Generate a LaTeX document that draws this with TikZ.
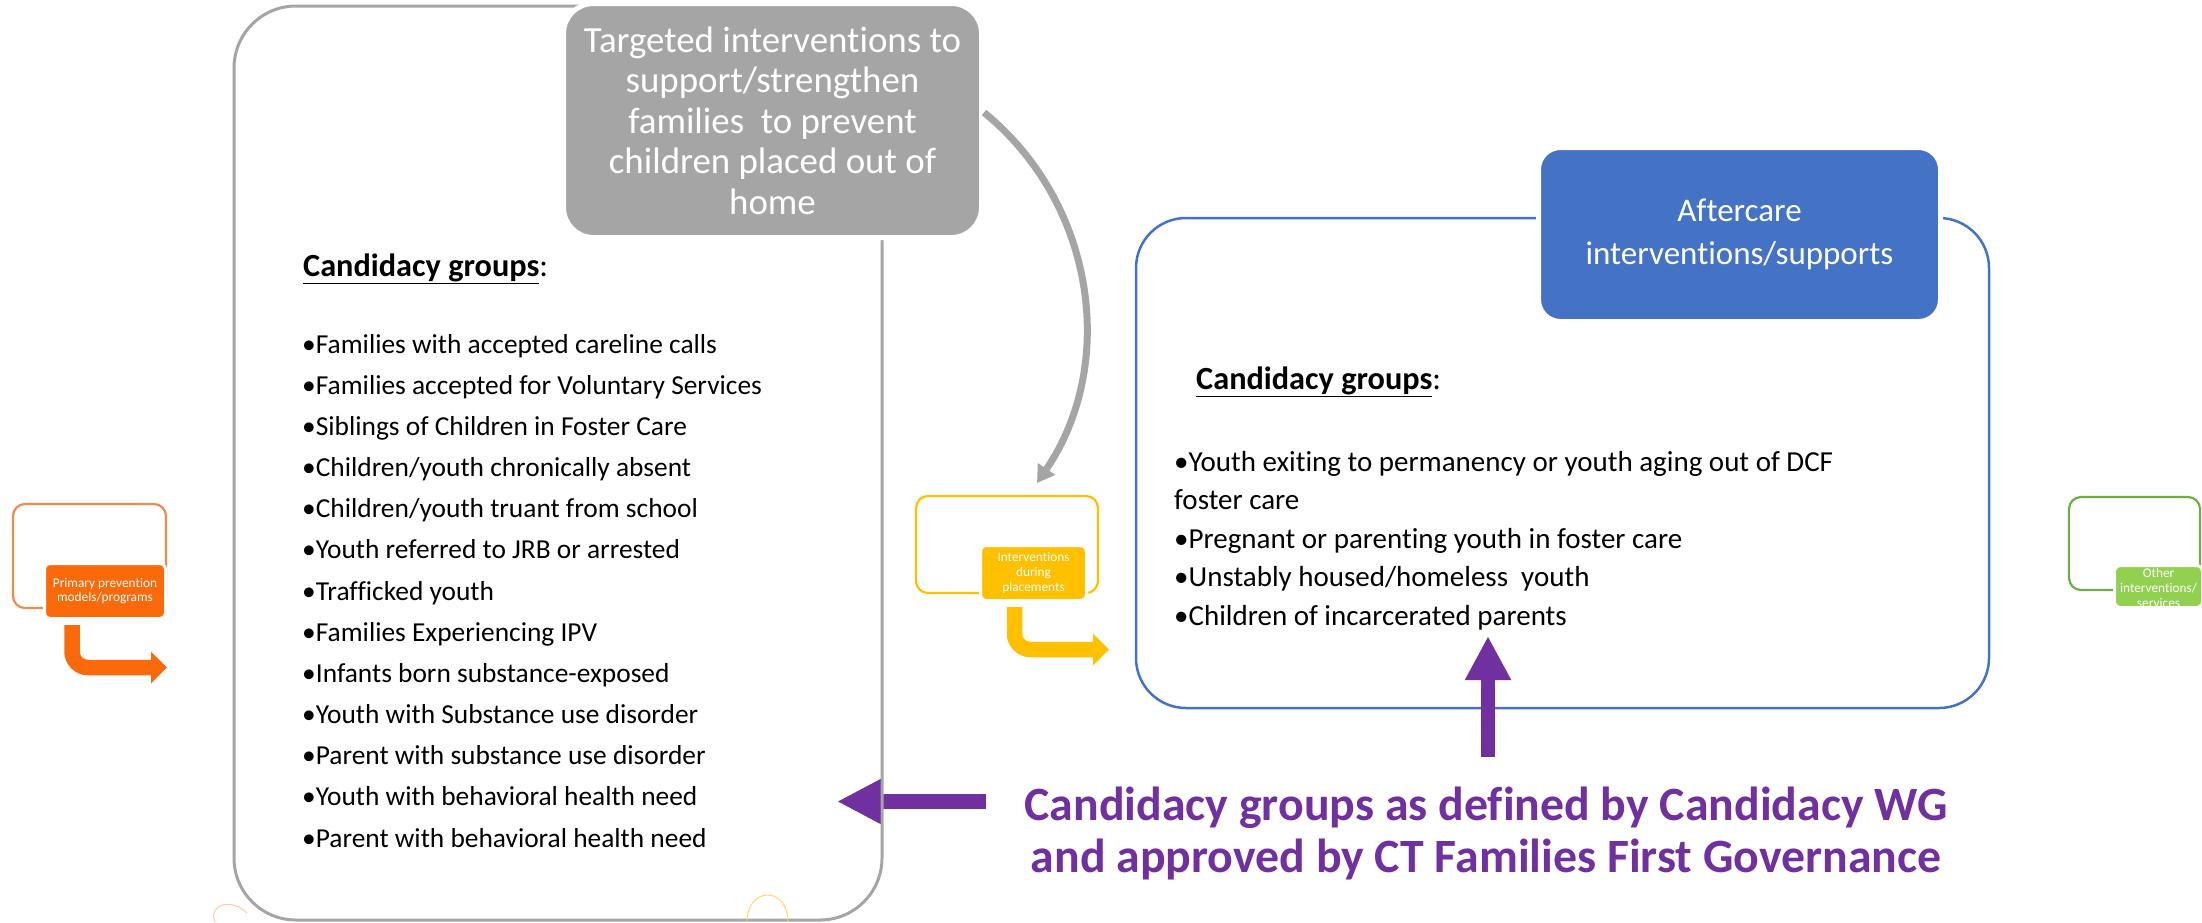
\documentclass[tikz,border=0pt]{standalone}
\usepackage{fontspec}
\setmainfont{Carlito}[Ligatures={NoCommon,NoContextual}]
\usetikzlibrary{arrows.meta}
\definecolor{cgray}{HTML}{A5A5A5}
\definecolor{cblue}{HTML}{4472C4}
\definecolor{corange}{HTML}{FA6A0A}
\definecolor{corangeline}{HTML}{F28A4C}
\definecolor{cyellow}{HTML}{FFC000}
\definecolor{cgreen}{HTML}{92D050}
\definecolor{cgreenline}{HTML}{70AD47}
\definecolor{cpurple}{HTML}{7030A0}
\definecolor{arcorange}{HTML}{F8CBAD}
\definecolor{arcyellow}{HTML}{FFD966}
\tikzset{
  smallframe/.style={draw=#1, line width=2.2pt, rounded corners=12pt, inner sep=0pt},
  smalltag/.style={fill=#1, draw=white, line width=3pt, rounded corners=6pt, inner sep=0pt,
    text=white, align=center, font=\fontsize{13.3}{14.7}\selectfont},
  bentarrow/.style={draw=#1, line width=15.5pt, rounded corners=16pt, -{Triangle[length=16pt,width=31pt]}},
  purplearrow/.style={draw=cpurple, line width=15pt, -{Triangle[length=45pt,width=43pt]}},
  grayarrow/.style={draw=cgray, line width=7pt, -{Triangle[length=17pt,width=20pt]}},
  listtext/.style={inner sep=0pt, align=left, anchor=north west},
  headtext/.style={inner sep=0pt, anchor=base west, font=\fontsize{32.3}{36}\selectfont}
}
\begin{document}
\begin{tikzpicture}[x=1pt,y=-1pt]
\useasboundingbox (0,0) rectangle (2202,922);

% purple left arrow (under the frame line)
\coordinate (la1) at (986,801.5);
\coordinate (la2) at (837,801.5);
\draw[purplearrow] (la1) -- (la2);

% big gray frame and targeted box
\node[draw=cgray, line width=3pt, rounded corners=62pt, minimum width=648pt, minimum height=914pt, inner sep=0pt] (tgtframe) at (558,463) {};
\node[fill=cgray, draw=white, line width=5pt, rounded corners=30pt, minimum width=418pt, minimum height=234pt, inner sep=0pt, text=white, align=center, font=\fontsize{36.9}{40.5}\selectfont] (tgtbox) at (772.5,120.5) {Targeted interventions to\\support/strengthen\\families\ \ to prevent\\children placed out of\\home};

% aftercare frame and box
\node[draw=cblue, line width=2.5pt, rounded corners=50pt, minimum width=853pt, minimum height=490pt, inner sep=0pt] (afterframe) at (1562.5,463) {};
\node[fill=cblue, draw=white, line width=5pt, rounded corners=22pt, minimum width=402pt, minimum height=174pt, inner sep=0pt, text=white, align=center, font=\fontsize{33}{43}\selectfont] (afterbox) at (1739.5,234.5) {\rule{0pt}{0pt}Aftercare\\interventions/supports};

% small boxes
\node[smallframe=corangeline, minimum width=153pt, minimum height=104pt] (primframe) at (89.5,556) {};
\node[smalltag=corange, minimum width=121pt, minimum height=55pt] (primbox) at (105,591) {Primary prevention\\models/programs};

\node[smallframe=cyellow, minimum width=182pt, minimum height=97pt] (placeframe) at (1007,544.5) {};
\node[smalltag=cyellow, minimum width=106pt, minimum height=55pt] (placebox) at (1033.5,573) {Interventions\\during\\placements};

\node[smallframe=cgreenline, minimum width=131pt, minimum height=93pt] (otherframe) at (2134.5,543.5) {};
\node[fill=cgreen, draw=white, line width=3pt, rounded corners=6pt, inner sep=0pt, minimum width=88pt, minimum height=42pt] (otherbox) at (2158.5,586.5) {};
\node[inner sep=0pt, text=white, align=center, font=\fontsize{13.3}{14.7}\selectfont] (othertext) at (2158.5,588) {Other\\interventions/\\services};

% bent arrows
\coordinate (pa1) at (72,625);
\coordinate (pa2) at (167,667.5);
\draw[bentarrow=corange] (pa1) |- (pa2);
\coordinate (ya1) at (1014.5,607);
\coordinate (ya2) at (1109,649.5);
\draw[bentarrow=cyellow] (ya1) |- (ya2);

% gray curved arrow
\coordinate (gtip) at (1037,483);
\draw[grayarrow] ([yshift=8pt]tgtbox.east) .. controls (1095,203) and (1118,364) .. (gtip);

% purple up arrow
\coordinate (ua1) at (1488,757);
\coordinate (ua2) at (1488,636);
\draw[purplearrow, line width=14pt, -{Triangle[length=44pt,width=43pt]}] (ua1) -- (ua2);

% left list
\node[headtext] (lhead) at (303,276) {\underline{\textbf{Candidacy groups}}:};
\node[listtext, font=\fontsize{27.4}{41.15}\selectfont] (llist) at (302,323) {\rule{0pt}{30pt}•Families with accepted careline calls\\
•Families accepted for Voluntary Services\\
•Siblings of Children in Foster Care\\
•Children/youth chronically absent\\
•Children/youth truant from school\\
•Youth referred to JRB or arrested\\
•Trafficked youth\\
•Families Experiencing IPV\\
•Infants born substance-exposed\\
•Youth with Substance use disorder\\
•Parent with substance use disorder\\
•Youth with behavioral health need\\
•Parent with behavioral health need};

% right list
\node[headtext] (rhead) at (1196,389) {\underline{\textbf{Candidacy groups}}:};
\node[listtext, font=\fontsize{29}{38.5}\selectfont] (rlist) at (1174,441) {\rule{0pt}{30pt}•Youth exiting to permanency or youth aging out of DCF\\
foster care\\
•Pregnant or parenting youth in foster care\\
•Unstably housed/homeless\ \ youth\\
•Children of incarcerated parents};

% purple note
\node[text=cpurple, align=center, inner sep=0pt, font=\bfseries\fontsize{47.8}{52}\selectfont] (wgnote) at (1486,833) {Candidacy groups as defined by Candidacy WG\\and approved by CT Families First Governance};

% decorative arc fragments
\draw[arcorange, line width=1pt] (215,922) .. controls (208,905) and (230,897) .. (247,913);
\draw[arcyellow, line width=1pt] (747,922) .. controls (747,886) and (788,886) .. (788,922);
\end{tikzpicture}
\end{document}
